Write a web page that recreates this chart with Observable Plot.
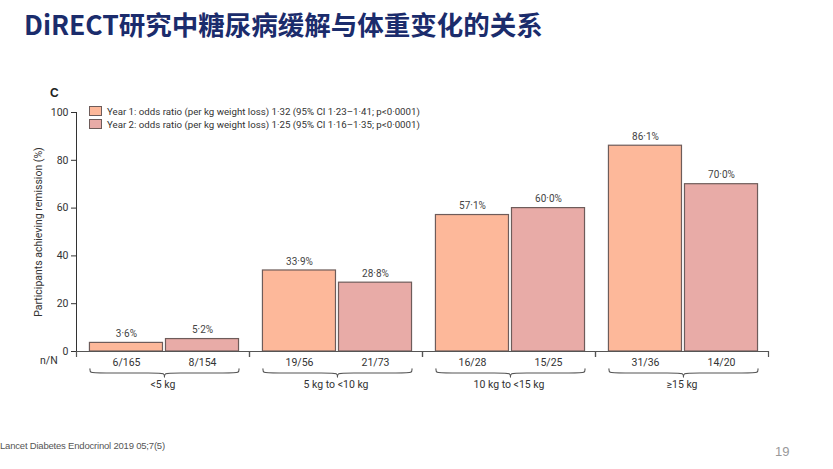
<!DOCTYPE html>
<html><head><meta charset="utf-8">
<script src="https://cdn.jsdelivr.net/npm/d3@7"></script>
<script src="https://cdn.jsdelivr.net/npm/@observablehq/plot@0.6"></script>
<style>
body{margin:0;background:#fff;width:833px;height:469px;overflow:hidden;position:relative;font-family:"Roboto",sans-serif;}
#title{position:absolute;left:24px;top:4px;font-family:"Noto Sans CJK SC","Noto Sans",sans-serif;font-weight:700;font-size:26.5px;color:#1b2c6c;white-space:nowrap;}
#panel{position:absolute;left:50px;top:86px;font-family:"Liberation Sans","Roboto",sans-serif;font-weight:700;font-size:12px;color:#222;}
#legend{position:absolute;left:89px;top:105px;font-size:9.7px;color:#333;line-height:13.3px;}
#legend .sw{display:inline-block;width:11px;height:8px;border:1px solid #6e5c5a;margin-right:5px;vertical-align:-1px;}
#nn{position:absolute;left:40px;top:354px;font-size:10.5px;color:#333;}
#chart{position:absolute;left:0;top:50px;}
#footer{position:absolute;left:0px;top:440px;font-family:"Liberation Sans",sans-serif;font-size:9.5px;color:#555;white-space:nowrap;letter-spacing:-0.2px;}
#page{position:absolute;left:775px;top:444px;font-family:"Liberation Sans",sans-serif;font-size:13px;color:#999;}
</style></head><body>
<div id="title">DiRECT研究中糖尿病缓解与体重变化的关系</div>
<div id="panel">C</div>
<div id="legend"></div>
<div id="nn">n/N</div>
<div id="chart"></div>
<div id="footer">Lancet Diabetes Endocrinol 2019 05;7(5)</div>
<div id="page">19</div>
<script>
const groups = ["<5 kg", "5 kg to <10 kg", "10 kg to <15 kg", "≥15 kg"];
const years = ["Year 1", "Year 2"];
const year1Pct = [3.6, 33.9, 57.1, 86.1];
const year2Pct = [5.2, 28.8, 60.0, 70.0];
const year1N = ["6/165", "19/56", "16/28", "31/36"];
const year2N = ["8/154", "21/73", "15/25", "14/20"];
const legendLabels = [
  "Year 1: odds ratio (per kg weight loss) 1·32 (95% CI 1·23–1·41; p<0·0001)",
  "Year 2: odds ratio (per kg weight loss) 1·25 (95% CI 1·16–1·35; p<0·0001)"
];
const yTicks = [0, 20, 40, 60, 80, 100];
const yearColors = ["#fdb89a", "#e8aba7"];
const yLabel = "Participants achieving remission (%)";

const rows = [];
groups.forEach((g, i) => {
  rows.push({group: g, year: years[0], idx: 0, value: year1Pct[i], n: year1N[i]});
  rows.push({group: g, year: years[1], idx: 1, value: year2Pct[i], n: year2N[i]});
});
const fmt = v => d3.format(".1f")(v).replace(".", "·") + "%";

// brace shape under each group (spans the two bars)
const braceRows = [];
groups.forEach(g => {
  const x0 = 0.02, x1 = 1.98, m = 1;
  const yEnd = -7.2, yFlat = -9.0, yTip = -10.6;
  [[x0, yEnd], [x0, yFlat], [x0 + 0.1, yFlat], [m - 0.1, yFlat], [m, yFlat], [m, yTip]]
    .forEach(([x, y]) => braceRows.push({group: g, side: g + "L", x, y}));
  [[m, yTip], [m, yFlat], [m + 0.1, yFlat], [x1 - 0.1, yFlat], [x1, yFlat], [x1, yEnd]]
    .forEach(([x, y]) => braceRows.push({group: g, side: g + "R", x, y}));
});

const xDomain = [-0.157, 2.118];

const chart = Plot.plot({
  width: 833,
  height: 390,
  marginLeft: 75,
  marginRight: 64,
  marginTop: 62,
  marginBottom: 89,
  style: {fontFamily: 'Roboto, sans-serif', fontSize: "10.5px", color: "#333", background: "transparent"},
  fx: {domain: groups, padding: 0, axis: "bottom", tickSize: 0, tickPadding: 29, label: null},
  x: {domain: xDomain, axis: null},
  y: {domain: [0, 100], ticks: yTicks, tickSize: 5, tickPadding: 3, line: true,
      label: yLabel, labelAnchor: "center", labelOffset: 42, labelArrow: "none", grid: false},
  color: {domain: years, range: yearColors},
  marks: [
    Plot.rectY(rows, {fx: "group", x1: "idx", x2: d => d.idx + 1, y1: 0, y2: "value",
      fill: "year", stroke: "#6e5c5a", strokeWidth: 1.2, insetLeft: 1.5, insetRight: 1.5}),
    Plot.ruleY([0], {stroke: "#555", strokeWidth: 1.2}),
    Plot.ruleX(groups, {fx: d => d, x: xDomain[0], y1: 0, y2: -2.5, stroke: "#555", strokeWidth: 1.2}),
    Plot.ruleX(groups, {fx: d => d, x: xDomain[1], y1: 0, y2: -2.5, stroke: "#555", strokeWidth: 1.2}),
    Plot.text(rows, {fx: "group", x: d => d.idx + 0.5, y: "value", text: d => fmt(d.value),
      dy: -9, fontSize: 10, fill: "#444"}),
    Plot.text(rows, {fx: "group", x: d => d.idx + 0.5, y: 0, text: "n", dy: 11, fontSize: 10.5, fill: "#333"}),
    Plot.line(braceRows, {fx: "group", x: "x", y: "y", z: "side", curve: "basis", stroke: "#555", strokeWidth: 1.1})
  ]
});
document.getElementById("chart").appendChild(chart);

const leg = d3.select("#legend");
years.forEach((y, i) => {
  const row = leg.append("div");
  row.append("span").attr("class", "sw").style("background", yearColors[i]);
  row.append("span").text(legendLabels[i]);
});
</script>
</body></html>
